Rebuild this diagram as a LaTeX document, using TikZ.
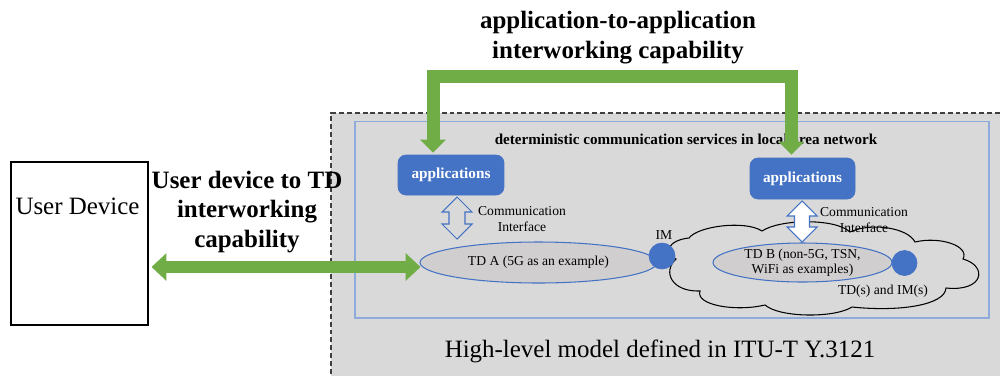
\documentclass[tikz,border=0pt]{standalone}
\usepackage{fontspec}
\setmainfont{Liberation Serif}
\usetikzlibrary{arrows.meta,shapes.geometric,calc}
\definecolor{bggray}{HTML}{D9D9D9}
\definecolor{ellgray}{HTML}{D0CECE}
\definecolor{appblue}{HTML}{4472C4}
\definecolor{rectblue}{HTML}{8FAADC}
\definecolor{lgreen}{HTML}{70AD47}
\definecolor{dashgray}{HTML}{404040}
\begin{document}
\begin{tikzpicture}[x=0.02cm,y=-0.02cm,
  appbox/.style={draw=appblue, fill=appblue, rounded corners=0.16cm, minimum width=2.12cm, minimum height=0.8cm, inner sep=0pt, text=white, font=\fontsize{8.7}{10}\selectfont\bfseries},
  tdell/.style={ellipse, draw=appblue, line width=0.6pt, fill=ellgray, inner sep=0pt, font=\fontsize{7.75}{8.6}\selectfont, align=center},
  imdot/.style={circle, fill=appblue, draw=appblue, inner sep=0pt},
  smalltext/.style={font=\fontsize{7.75}{9.3}\selectfont, align=center, inner sep=0pt},
  bigbold/.style={font=\fontsize{14.2}{17}\selectfont\bfseries, align=center, inner sep=0pt},
  bigtext/.style={font=\fontsize{14.2}{17}\selectfont, inner sep=0pt},
  greenarr/.style={draw=lgreen, line width=7.4pt},
  ciarrow/.style={draw=appblue, line width=0.6pt},
  cloudline/.style={draw=black, fill=bggray, line width=0.6pt},
]
\useasboundingbox (0,0) rectangle (1000,376);
% outer dashed region
\fill[bggray] (331,113) rectangle (1000,376);
\draw[dashgray, line width=0.7pt, dash pattern=on 2.8pt off 1.7pt] (1000,113) -- (331,113) -- (331,376);
% inner LAN rectangle
\draw[rectblue, line width=0.8pt] (355,121.5) rectangle (989,318);
\node[font=\fontsize{8.6}{10}\selectfont\bfseries, inner sep=0pt] (title) at (686,139) {deterministic communication services in local area network};
% cloud (TD(s) and IM(s))
\draw[cloudline] (676,259)
  .. controls (662,254) and (668,240) .. (689,238)
  .. controls (698,226) and (745,220) .. (762,231)
  .. controls (780,219) and (835,218) .. (850,232)
  .. controls (872,222) and (908,228) .. (915,242)
  .. controls (940,236) and (970,246) .. (963,259)
  .. controls (988,266) and (984,292) .. (946,288)
  .. controls (945,305) and (900,312) .. (852,307)
  .. controls (835,318) and (780,318) .. (765,305)
  .. controls (735,312) and (695,305) .. (700,291)
  .. controls (672,292) and (662,272) .. cycle;
% TDs
\node[tdell, minimum width=4.74cm, minimum height=0.82cm] (tdA) at (538.5,262.5) {TD A (5G as an example)};
\node[tdell, minimum width=3.58cm, minimum height=0.78cm] (tdB) at (802.5,262.5) {TD B (non-5G, TSN,\\WiFi as examples)};
\node[imdot, minimum size=0.52cm] (imA) at (662,256) {};
\node[imdot, minimum size=0.5cm] (imB) at (904.5,263) {};
\node[smalltext] (imlabel) at (664,235) {IM};
\node[smalltext] (tdslabel) at (883,291) {TD(s) and IM(s)};
% applications
\node[appbox] (appL) at (451,175) {applications};
\node[appbox, minimum width=2.1cm, minimum height=0.82cm] (appR) at (802.5,178.5) {applications};
% communication interface block arrows
\draw[ciarrow, fill=bggray] (457,218) ++(0,-21) -- ++(15,15) -- ++(-7,0) -- ++(0,12) -- ++(7,0) -- ++(-15,15) -- ++(-15,-15) -- ++(7,0) -- ++(0,-12) -- ++(-7,0) -- cycle;
\draw[ciarrow, fill=white] (802,221.5) ++(0,-20.5) -- ++(15,15) -- ++(-7.5,0) -- ++(0,11) -- ++(7.5,0) -- ++(-15,15) -- ++(-15,-15) -- ++(7.5,0) -- ++(0,-11) -- ++(-7.5,0) -- cycle;
\node[smalltext] (ciLlabel) at (522,219) {Communication\\Interface};
\node[smalltext] (ciRlabel) at (864,220) {Communication\\Interface};
% user device
\node[draw=black, line width=0.6pt, fill=white, minimum width=2.74cm, minimum height=3.26cm, inner sep=0pt] (ud) at (79.5,243.5) {};
\node[bigtext] (udlabel) at (77.5,206) {User Device};
% labels
\node[bigbold] (a2a) at (618,38) {application-to-application\\interworking capability};
\node[bigbold] (ud2td) at (247,212) {User device to TD\\interworking\\capability};
\node[bigtext] (hl) at (660,351) {High-level model defined in ITU-T Y.3121};
% green arrows
\coordinate (barY) at (600,76.5);
\draw[greenarr, arrows={Triangle[width=14.2pt,length=7.4pt]-Triangle[width=14.2pt,length=7.4pt]}] ($(appL.north)+(-18,-2)$) |- (barY) -| ($(appR.north)+(-11,-3)$);
\coordinate (hy) at (0,267);
\draw[greenarr, line width=7.2pt, arrows={Triangle[width=15.3pt,length=8.5pt]-Triangle[width=15.3pt,length=8.5pt]}] ($(ud.east |- hy)+(3,0)$) -- ($(tdA.west |- hy)+(1,0)$);
\end{tikzpicture}
\end{document}
